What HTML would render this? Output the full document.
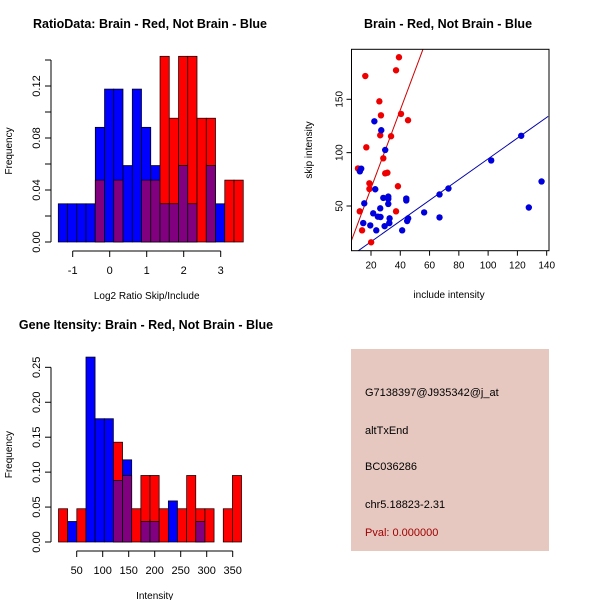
<!DOCTYPE html>
<html><head><meta charset="utf-8"><style>
body{margin:0;background:#fff}
svg{display:block;font-family:"Liberation Sans",sans-serif}
</style></head><body>
<svg id="c" width="600" height="600" xmlns="http://www.w3.org/2000/svg">
<rect width="600" height="600" fill="#fff"/>
<text x="150" y="28" font-size="12.5" font-weight="bold" text-anchor="middle">RatioData: Brain - Red, Not Brain - Blue</text>
<text x="448" y="28" font-size="12.5" font-weight="bold" text-anchor="middle">Brain - Red, Not Brain - Blue</text>
<text x="146" y="329" font-size="12.5" font-weight="bold" text-anchor="middle">Gene Itensity: Brain - Red, Not Brain - Blue</text>
<g>
<rect x="351" y="349" width="198" height="202" fill="#e6c8c0"/>
<text x="365" y="396" font-size="11">G7138397@J935342@j_at</text>
<text x="365" y="434" font-size="11">altTxEnd</text>
<text x="365" y="470" font-size="11">BC036286</text>
<text x="365" y="508" font-size="11">chr5.18823-2.31</text>
<text x="365" y="536" font-size="11" fill="#a00000">Pval: 0.000000</text>
</g>
</svg>
<script>
// Ratio histogram data (counts per bin)
const ratioBinStart = -1.39, ratioBinWidth = 0.25;
const ratioBlue = [1,1,1,1,3,4,4,2,4,3,2,1,1,2,1,0,2,1,0,0];
const ratioRed  = [0,0,0,0,1,0,1,0,0,1,1,3,2,3,3,2,2,0,1,1];
const ratioXTicks = [-1,0,1,2,3];
const ratioYTicks = [0,0.04,0.08,0.12];
// Intensity histogram data
const intBinStart = 15, intBinWidth = 17.6;
const intBlue = [0,1,0,9,6,6,3,4,0,1,1,0,2,0,0,1,0,0,0,0];
const intRed  = [1,0,1,0,0,0,3,2,1,2,2,1,0,1,2,1,1,0,1,2];
const intXTicks = [50,100,150,200,250,300,350];
const intYTicks = [0,0.05,0.1,0.15,0.2,0.25];
// Scatter data
const redX = [39.1,37.1,16.1,25.7,26.8,40.5,45.3,26.3,33.7,16.8,28.4,31.2,29.7,11.1,18.9,18.9,38.4,12.3,37.1,13.9,20.1];
const redY = [189.4,177.2,171.8,148.1,135,136.3,130.4,116.3,115.4,105,94.7,81.2,80.6,85.2,71.3,66,68.5,45,45,27.2,16];
const blueX = [22.3,27,29.7,13.3,12.4,15.4,22.9,28.4,31.8,31.8,31.8,44.1,44.1,26.3,21.5,24.7,26.5,32.7,45.4,44.7,32.5,14.7,19.5,29.3,23.6,41.3,56.3,66.8,66.8,72.9,102.1,122.6,136.5,127.8];
const blueY = [129.4,121,102.5,85,82.5,52.5,65.7,57.6,58.8,56.6,51.9,57,55.2,47.8,43.1,40,39.7,38.4,38.4,35.9,34,34,31.8,31.1,27.2,27.2,44,39.3,60.8,66.4,92.7,115.8,73,48.6];
const redFit = [-6.8,3.67];   // intercept, slope
const blueFit = [-2.9,0.971];
const scXTicks = [20,40,60,80,100,120,140];
const scYTicks = [50,100,150];

const NS="http://www.w3.org/2000/svg", svg=document.getElementById('c');
function mk(tag,at,parent){const e=document.createElementNS(NS,tag);for(const k in at)e.setAttribute(k,at[k]);(parent||svg).appendChild(e);return e;}

function hist(o){
  const g=mk('g',{});
  
  
  const nB=o.blue.reduce((a,b)=>a+b,0), nR=o.red.reduce((a,b)=>a+b,0);
  const X=v=>o.x0+(v-o.v0)*o.sx, Y=v=>o.y0-v*o.sy;
  for(let i=0;i<o.blue.length;i++){
    const l=X(o.start+i*o.w), r=X(o.start+(i+1)*o.w);
    const fb=o.blue[i]/nB, fr=o.red[i]/nR;
    const hi=Math.max(fb,fr), lo=Math.min(fb,fr);
    if(hi>0){
      const b=mk('rect',{x:l,y:Y(hi),width:r-l,height:Y(0)-Y(hi),fill:fb>=fr?'#0000ff':'#ff0000',stroke:'#000','stroke-width':0.7},g);
      
      
    }
    if(lo>0){
      const p=mk('rect',{x:l,y:Y(lo),width:r-l,height:Y(0)-Y(lo),fill:'#800080',stroke:'#000','stroke-width':0.7},g);
      
      
    }
  }
  const ya=mk('g',{},g);
  
  
  const yt=o.yTicks;
  mk('line',{x1:o.ax,x2:o.ax,y1:Y(yt[0]),y2:Y(o.yTop),stroke:'#000'},ya);
  const yts=yt.concat(o.extraY||[]);
  yts.forEach(t=>mk('line',{x1:o.ax-6,x2:o.ax,y1:Y(t),y2:Y(t),stroke:'#000'},ya));
  yt.forEach(t=>{const tx=mk('text',{x:0,y:0,'font-size':11,'text-anchor':'middle',transform:`translate(${o.ax-11},${Y(t)}) rotate(-90)`},ya);tx.textContent=t.toFixed(2);});
  const yl=mk('text',{x:0,y:0,'font-size':10,'text-anchor':'middle',transform:`translate(12,${(Y(0)+Y(o.yTop))/2}) rotate(-90)`},g);
  yl.textContent='Frequency';
  
  
  const xa=mk('g',{},g);
  
  
  const xt=o.xTicks;
  mk('line',{x1:X(xt[0]),x2:X(xt[xt.length-1]),y1:o.axY,y2:o.axY,stroke:'#000'},xa);
  xt.forEach(t=>{mk('line',{x1:X(t),x2:X(t),y1:o.axY,y2:o.axY+6,stroke:'#000'},xa);
    const tx=mk('text',{x:X(t),y:o.axY+23,'font-size':11,'text-anchor':'middle'},xa);tx.textContent=t;});
  const xl=mk('text',{x:(X(xt[0])+X(xt[xt.length-1]))/2,y:o.axY+48,'font-size':10,'text-anchor':'middle'},g);
  xl.textContent=o.xlab;
  
  
}
hist({name:'ratio-histogram',blue:ratioBlue,red:ratioRed,start:ratioBinStart,w:ratioBinWidth,x0:109.7,v0:0,sx:37,y0:242,sy:1300,ax:51,axY:251,xTicks:ratioXTicks,yTicks:ratioYTicks,yTop:0.14,extraY:[0.02,0.06,0.1,0.14],xlab:'Log2 Ratio Skip/Include'});
hist({name:'intensity-histogram',blue:intBlue,red:intRed,start:intBinStart,w:intBinWidth,x0:76.7,v0:50,sx:0.52,y0:542,sy:698.7,ax:51,axY:551,xTicks:intXTicks,yTicks:intYTicks,yTop:0.25,xlab:'Intensity'});

(function(){
  const g=mk('g',{});
  
  
  const X=v=>371+(v-20)*1.464, Y=v=>206-(v-50)*1.067;
  const L=351.5,R=549,T=49.3,B=250.7;
  mk('clipPath',{id:'sc'},g);
  mk('rect',{x:L,y:T,width:R-L,height:B-T},document.getElementById('sc'));
  const pg=mk('g',{'clip-path':'url(#sc)'},g);
  const xs0=6,xs1=141;
  [[redFit,'#cc0000','red-fit-line'],[blueFit,'#0000aa','blue-fit-line']].forEach(([f,c,n])=>{
    const ln=mk('line',{x1:X(xs0),y1:Y(f[0]+f[1]*xs0),x2:X(xs1),y2:Y(f[0]+f[1]*xs1),stroke:c,'stroke-width':1},pg);
    
    
  });
  redX.forEach((x,i)=>{const c=mk('circle',{cx:X(x),cy:Y(redY[i]),r:3.2,fill:'#ee0000'},pg);
    
    });
  blueX.forEach((x,i)=>{const c=mk('circle',{cx:X(x),cy:Y(blueY[i]),r:3.2,fill:'#0000dd'},pg);
    
    });
  mk('rect',{x:L,y:T,width:R-L,height:B-T,fill:'none',stroke:'#000'},g);
  const xa=mk('g',{},g);
  
  
  scXTicks.forEach(t=>{mk('line',{x1:X(t),x2:X(t),y1:B,y2:B+5,stroke:'#000'},xa);
    const tx=mk('text',{x:X(t),y:B+18,'font-size':10,'text-anchor':'middle'},xa);tx.textContent=t;});
  const ya=mk('g',{},g);
  
  
  scYTicks.forEach(t=>{mk('line',{x1:L-5,x2:L,y1:Y(t),y2:Y(t),stroke:'#000'},ya);
    const tx=mk('text',{x:0,y:0,'font-size':10,'text-anchor':'middle',transform:`translate(${L-9},${Y(t)}) rotate(-90)`},ya);tx.textContent=t;});
  const xl=mk('text',{x:449,y:298,'font-size':10,'text-anchor':'middle'},g);
  xl.textContent='include intensity';
  
  
  const yl=mk('text',{x:0,y:0,'font-size':10,'text-anchor':'middle',transform:`translate(312,150) rotate(-90)`},g);
  yl.textContent='skip intensity';
  
  
})();
</script>
</body></html>
